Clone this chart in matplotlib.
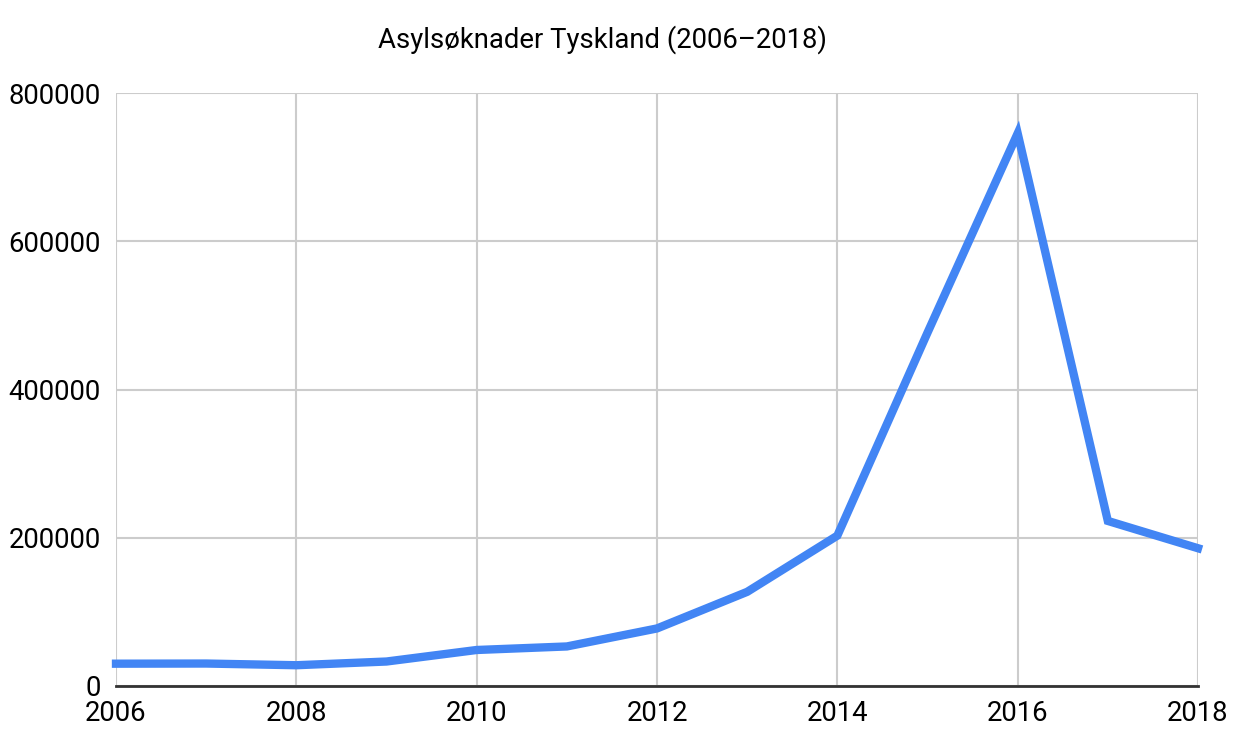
import matplotlib
matplotlib.use("Agg")
import matplotlib.pyplot as plt

years = [2006, 2007, 2008, 2009, 2010, 2011, 2012, 2013, 2014, 2015, 2016, 2017, 2018]
applications = [30100, 30303, 28018, 33033, 48589, 53347, 77651, 127023, 202834, 476649, 745545, 222683, 185853]
xticks = [2006, 2008, 2010, 2012, 2014, 2016, 2018]
yticks = [0, 200000, 400000, 600000, 800000]
title = "Asylsøknader Tyskland (2006–2018)"

plt.rcParams['font.family'] = ['Roboto', 'DejaVu Sans']

fig = plt.figure(figsize=(12.35, 7.45), dpi=100)
ax = fig.add_axes([116/1235, 59/745, (1198-116)/1235, (686-93)/745])

ax.plot(years, applications, color='#4285F4', linewidth=6, solid_joinstyle='miter', clip_on=False, zorder=3)

ax.set_xlim(2006, 2018)
ax.set_ylim(0, 800000)
ax.set_xticks(xticks)
ax.set_yticks(yticks)
ax.set_xticklabels([str(v) for v in xticks])
ax.set_yticklabels([str(v) for v in yticks])

ax.grid(True, color='#cccccc', linewidth=1.5, zorder=0)
for s in ['top', 'right', 'left']:
    ax.spines[s].set_visible(False)
ax.spines['bottom'].set_color('#333333')
ax.spines['bottom'].set_linewidth(2)
ax.spines['bottom'].set_zorder(4)
ax.tick_params(axis='both', length=0, labelsize=19.8, colors='black')
ax.tick_params(axis='x', pad=10)
ax.tick_params(axis='y', pad=11)
for lbl in ax.get_yticklabels():
    lbl.set_verticalalignment('center_baseline')

fig.text(603/1235, 1 - 40/745, title, ha='center', va='center', fontsize=19.8)

fig.savefig('out.png', dpi=100)
